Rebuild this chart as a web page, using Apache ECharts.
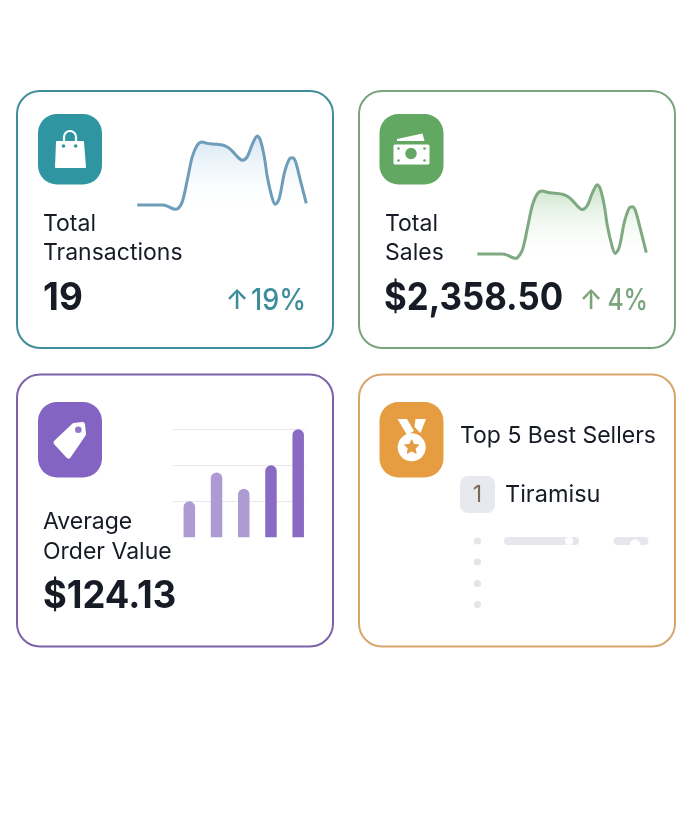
<!DOCTYPE html>
<html>
<head>
<meta charset="utf-8">
<title>Dashboard cards</title>
<style>
  html, body { margin: 0; padding: 0; background: #fff; }
  #chart { width: 690px; height: 833px; }
</style>
<script src="https://cdn.jsdelivr.net/npm/echarts@6/dist/echarts.min.js"></script>
</head>
<body>
<div id="chart"></div>
<script>
// sparkline data
const sparkX = [0, 5, 10, 15, 20, 25, 30, 35, 38, 40, 45, 50, 55, 60, 65, 70, 75, 80, 85, 90, 95, 100, 105, 110, 115, 120, 123, 127, 130, 135, 138, 142, 147, 152, 155, 158, 163, 169];
const transactionsTrend = [8.3, 8.3, 8.3, 8.3, 8.3, 8.3, 7, 4, 3, 3.3, 12.5, 39.6, 68.8, 83.3, 87, 85.4, 84.6, 84.2, 83.3, 80.8, 75.8, 68.8, 64.2, 68.8, 84.2, 94.6, 89.6, 68.8, 43.8, 16.7, 9.2, 16.7, 48, 65.8, 67.5, 63.3, 39.6, 10.4];
const salesTrend = [8.5, 8.5, 8.5, 8.5, 8.5, 8.5, 7, 4, 3, 3.5, 13, 40, 69, 83.5, 87, 85.5, 84.5, 84, 83, 80.5, 75.5, 68.5, 64, 69, 84.5, 95, 90, 69, 44, 17, 9, 17, 48, 66, 67.5, 63, 40, 10];

// average order value bars
const orderBuckets = [0, 1, 2, 3, 4];
const orderValues = [20, 36, 27, 40, 60];

// card texts
const transactionsTitle = ['Total', 'Transactions'];
const salesTitle = ['Total', 'Sales'];
const orderTitle = ['Average', 'Order Value'];
const transactionsValue = '19';
const salesValue = '$2,358.50';
const orderValue = '$124.13';
const transactionsChange = '19%';
const salesChange = '4%';
const sellersTitle = 'Top 5 Best Sellers';
const topSeller = 'Tiramisu';
const topRank = '1';

const FONT = 'Inter, "Noto Sans", sans-serif';
const DARK = '#161b26';

function card(x, y, w, h, color) {
  return { type: 'rect', shape: { x: x, y: y, width: w, height: h, r: 23 }, style: { fill: 'transparent', stroke: color, lineWidth: 2 } };
}
function tile(x, y, w, h, color) {
  return { type: 'rect', shape: { x: x, y: y, width: w, height: h, r: 19 }, style: { fill: color } };
}
// squeeze narrows the text a little, the picture's type is tighter than Inter
function label(text, x, y, size, weight, color, align, squeeze) {
  return {
    type: 'text', x: x, y: y, scaleX: squeeze || 1,
    style: { text: text, fill: color || DARK, font: (weight || 400) + ' ' + size + 'px ' + FONT, textAlign: align || 'left', textVerticalAlign: 'middle' }
  };
}
function dot(cx, cy, r, color) {
  return { type: 'circle', shape: { cx: cx, cy: cy, r: r }, style: { fill: color } };
}
function poly(points, color, round) {
  return {
    type: 'polygon', shape: { points: points },
    style: { fill: color, stroke: round ? color : null, lineWidth: round || 0, lineJoin: 'round' }
  };
}
function stroke(points, color, width) {
  return { type: 'polyline', shape: { points: points }, style: { fill: null, stroke: color, lineWidth: width } };
}
function box(x, y, w, h, r, color) {
  return { type: 'rect', shape: { x: x, y: y, width: w, height: h, r: r }, style: { fill: color } };
}
function star(cx, cy, outer, inner) {
  let pts = [];
  for (let i = 0; i < 10; i++) {
    let a = -Math.PI / 2 + i * Math.PI / 5;
    let r = i % 2 ? inner : outer;
    pts.push([cx + r * Math.cos(a), cy + r * Math.sin(a)]);
  }
  return pts;
}
function pairs(xs, ys) {
  return xs.map(function (x, i) { return [x, ys[i]]; });
}
function sparkSeries(index, values, color, fade) {
  return {
    type: 'line', xAxisIndex: index, yAxisIndex: index, data: pairs(sparkX, values),
    smooth: 0.3, showSymbol: false, silent: true,
    lineStyle: { color: color, width: 3 },
    areaStyle: {
      color: { type: 'linear', x: 0, y: 0, x2: 0, y2: 1, colorStops: [{ offset: 0, color: fade }, { offset: 1, color: 'rgba(255,255,255,0)' }] }
    }
  };
}
function hiddenValueAxis(gridIndex, min, max) {
  return { type: 'value', gridIndex: gridIndex, min: min, max: max, show: false };
}

const TEAL = '#3f8d9b', GREEN = '#7aa47c', PURPLE = '#7b62a9', ORANGE = '#d8a56a';

const graphics = [
  card(17, 91, 316, 257, TEAL),
  card(359, 91, 316, 257, GREEN),
  card(17, 374.5, 316, 272, PURPLE),
  card(359, 374.5, 316, 272, ORANGE),

  // bag icon
  tile(38, 114, 64, 70.5, '#2f96a1'),
  { type: 'arc', shape: { cx: 70, cy: 137, r: 6, startAngle: Math.PI, endAngle: 0, clockwise: true }, style: { fill: null, stroke: '#fff', lineWidth: 2.2 } },
  stroke([[64, 137], [64, 143]], '#fff', 2.2),
  stroke([[76, 137], [76, 143]], '#fff', 2.2),
  poly([[57, 142], [83, 142], [85, 167], [56, 167]], '#fff', 2),
  dot(63.5, 146, 1.8, '#2f96a1'),
  dot(75.7, 146, 1.8, '#2f96a1'),

  // money icon
  tile(379.5, 114, 64, 70.5, '#63a862'),
  poly([[397, 139], [422.5, 133.5], [424.5, 141], [397, 141]], '#fff', 0),
  box(393.5, 144.5, 36, 20, 1.5, '#fff'),
  dot(411, 153.5, 5.7, '#63a862'),
  dot(398.5, 148.5, 1.3, '#63a862'), dot(424.5, 148.5, 1.3, '#63a862'),
  dot(398.5, 160.5, 1.3, '#63a862'), dot(424.5, 160.5, 1.3, '#63a862'),

  // tag icon
  tile(38, 402, 64, 75.5, '#8364c3'),
  poly([[56, 442.5], [74, 425.5], [82.5, 424.5], [83.5, 434], [68.5, 456]], '#fff', 5),
  dot(78.3, 429.7, 3.3, '#9279c7'),

  // medal icon
  tile(379.5, 402, 64, 75.5, '#e69c40'),
  poly([[397.5, 419], [407, 419], [414, 431], [407, 435]], '#fff', 0),
  poly([[415.5, 419], [426, 419], [420.5, 433], [414.5, 427]], '#fff', 0),
  dot(411.7, 447.3, 14, '#fff'),
  poly(star(411.7, 447.3, 7.5, 3.6), '#e69c40', 1),

  // card 1 texts
  label(transactionsTitle[0], 43, 224, 23),
  label(transactionsTitle[1], 43, 253.5, 23),
  label(transactionsValue, 43, 299, 38, 700, DARK, 'left', 0.97),
  label('↑', 237, 301, 27, 500, TEAL, 'center'),
  label(transactionsChange, 306, 301, 30, 500, TEAL, 'right', 0.9),

  // card 2 texts
  label(salesTitle[0], 385, 224, 23),
  label(salesTitle[1], 385, 253.5, 23),
  label(salesValue, 384, 299, 38, 700, DARK, 'left', 0.915),
  label('↑', 591, 301, 27, 500, GREEN, 'center'),
  label(salesChange, 648, 301, 30, 500, GREEN, 'right', 0.82),

  // card 3 texts
  label(orderTitle[0], 43, 522.5, 23),
  label(orderTitle[1], 43, 552, 23),
  label(orderValue, 43, 597, 38, 700, DARK, 'left', 0.957),

  // card 4 texts
  label(sellersTitle, 460, 436, 23),
  box(460, 476, 35, 37, 8, '#e8e8ef'),
  label(topRank, 477.5, 495, 23, 400, '#7a6a55', 'center'),
  label(topSeller, 505, 495, 23.5),

  // faded rows under the first seller
  dot(477.5, 541, 3.6, '#e4e4e9'), dot(477.5, 562, 3.6, '#e4e4e9'),
  dot(477.5, 583.5, 3.6, '#e4e4e9'), dot(477.5, 604.5, 3.6, '#e4e4e9'),
  box(504, 537, 75, 8, 4, '#e6e6ec'),
  box(613.5, 537, 35, 8, 4, '#e6e6ec'),
  dot(569, 541, 4, '#fff'),
  poly([[630, 542], [635, 539], [640, 542], [640, 546], [630, 546]], '#fff', 0)
];

const chart = echarts.init(document.getElementById('chart'), null, { renderer: 'canvas' });
chart.setOption({
  backgroundColor: '#fff',
  animation: false,
  graphic: { elements: graphics },
  grid: [
    { left: 137.3, top: 131.7, width: 169, height: 80 },
    { left: 477.3, top: 180.7, width: 169, height: 80 },
    { left: 173, top: 429.3, width: 132, height: 108 }
  ],
  xAxis: [
    hiddenValueAxis(0, 0, 169),
    hiddenValueAxis(1, 0, 169),
    { type: 'value', gridIndex: 2, min: -0.6, max: 4.25, show: false }
  ],
  yAxis: [
    hiddenValueAxis(0, 0, 100),
    hiddenValueAxis(1, 0, 100),
    {
      type: 'value', gridIndex: 2, min: 0, max: 60, interval: 20,
      axisLine: { show: false }, axisTick: { show: false }, axisLabel: { show: false },
      splitLine: { show: true, showMinLine: false, lineStyle: { color: '#e9e6ef', width: 1 } }
    }
  ],
  series: [
    sparkSeries(0, transactionsTrend, '#6d9db8', 'rgba(170,205,232,0.7)'),
    sparkSeries(1, salesTrend, '#7fa981', 'rgba(150,200,150,0.75)'),
    {
      type: 'bar', xAxisIndex: 2, yAxisIndex: 2, data: pairs(orderBuckets, orderValues),
      barWidth: 11.5, silent: true,
      itemStyle: {
        borderRadius: [6, 6, 0, 0],
        color: function (p) { return p.dataIndex < 3 ? '#ae9bd3' : '#8a6bc4'; }
      }
    }
  ]
});
window.addEventListener('resize', function () { chart.resize(); });
</script>
</body>
</html>
